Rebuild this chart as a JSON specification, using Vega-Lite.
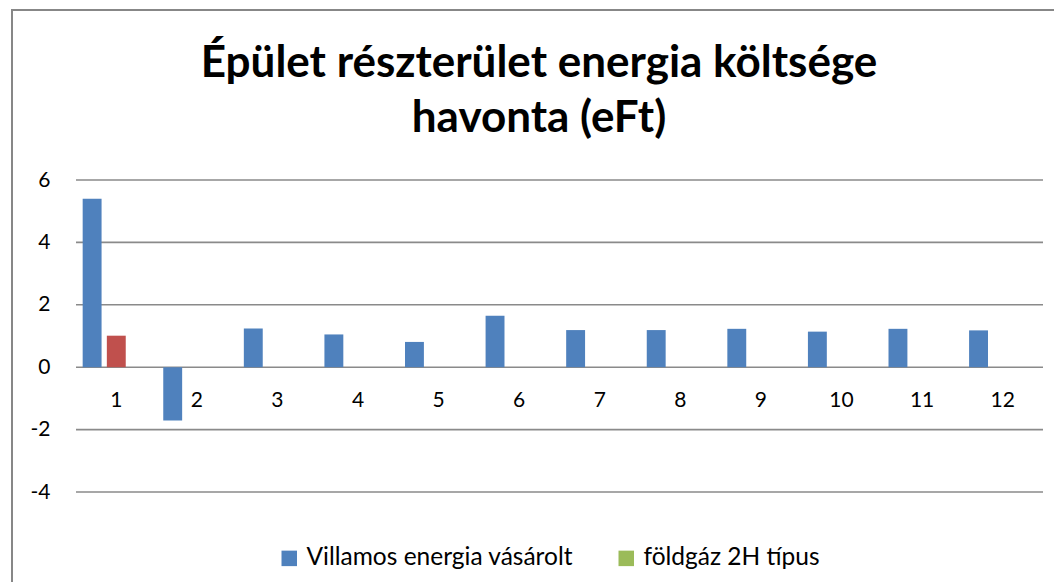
{
  "$schema": "https://vega.github.io/schema/vega-lite/v6.json",
  "width": 1050,
  "height": 580,
  "autosize": "none",
  "padding": {"left": 12, "top": 10, "right": 0, "bottom": 0},
  "background": "white",
  "config": {
    "view": {"stroke": "#878787", "strokeWidth": 2},
    "font": "Lato"
  },
  "title": {
    "text": ["Épület részterület energia költsége", "havonta (eFt)"],
    "anchor": "middle",
    "frame": "group",
    "font": "Lato",
    "fontSize": 44,
    "fontWeight": "bold",
    "color": "black",
    "lineHeight": 55,
    "baseline": "top",
    "offset": -131,
    "dx": 2
  },
  "layer": [
    {
      "data": {"values": [{"g": -4}, {"g": -2}, {"g": 0}, {"g": 2}, {"g": 4}, {"g": 6}]},
      "mark": {"type": "rule", "color": "#8A8A8A", "strokeWidth": 1.6},
      "encoding": {
        "y": {"field": "g", "type": "quantitative", "axis": {"title": null, "grid": false, "domain": false, "ticks": false, "tickSize": 0, "values": [-4, -2, 0, 2, 4, 6], "labelExpr": "replace(datum.label, '\u2212', '-')", "labelFontSize": 21, "labelColor": "black", "labelPadding": 26, "offset": -64}},
        "x": {"datum": 0, "type": "quantitative", "scale": {"domain": [0, 1], "range": [64, 1031]}, "axis": null},
        "x2": {"datum": 1}
      }
    },
    {
      "data": {"values": [
        {"month": 1, "series": "Villamos energia vásárolt", "value": 5.40},
        {"month": 2, "series": "Villamos energia vásárolt", "value": -1.71},
        {"month": 3, "series": "Villamos energia vásárolt", "value": 1.24},
        {"month": 4, "series": "Villamos energia vásárolt", "value": 1.05},
        {"month": 5, "series": "Villamos energia vásárolt", "value": 0.81},
        {"month": 6, "series": "Villamos energia vásárolt", "value": 1.65},
        {"month": 7, "series": "Villamos energia vásárolt", "value": 1.19},
        {"month": 8, "series": "Villamos energia vásárolt", "value": 1.19},
        {"month": 9, "series": "Villamos energia vásárolt", "value": 1.23},
        {"month": 10, "series": "Villamos energia vásárolt", "value": 1.14},
        {"month": 11, "series": "Villamos energia vásárolt", "value": 1.23},
        {"month": 12, "series": "Villamos energia vásárolt", "value": 1.18},
        {"month": 1, "series": "Egyéb", "value": 1.01},
        {"month": 1, "series": "földgáz 2H típus", "value": 0}
      ]},
      "mark": {"type": "bar"},
      "encoding": {
        "x": {
          "field": "month", "type": "ordinal",
          "scale": {"range": [64, 1031], "paddingInner": 0, "paddingOuter": 0, "domain": [1,2,3,4,5,6,7,8,9,10,11,12]},
          "axis": {"title": null, "domain": false, "ticks": false, "tickSize": 0, "grid": false, "labelAngle": 0, "labelFontSize": 21, "labelColor": "black", "labelBaseline": "middle", "labelPadding": 33, "offset": -222.5}
        },
        "xOffset": {
          "field": "series", "type": "nominal",
          "scale": {"domain": ["Villamos energia vásárolt", "Egyéb", "földgáz 2H típus"], "paddingInner": 0.218, "paddingOuter": 0.276}
        },
        "y": {
          "field": "value", "type": "quantitative",
          "scale": {"domain": [-4, 6], "range": [482, 170], "nice": false},
          "axis": {"title": null, "grid": false, "domain": false, "ticks": false, "tickSize": 0, "values": [-4, -2, 0, 2, 4, 6], "labelExpr": "replace(datum.label, '\u2212', '-')", "labelFontSize": 21, "labelColor": "black", "labelPadding": 26, "offset": -64}
        },
        "color": {
          "field": "series", "type": "nominal",
          "scale": {"domain": ["Villamos energia vásárolt", "Egyéb", "földgáz 2H típus"], "range": ["#4F81BD", "#C0504D", "#9BBB59"]},
          "legend": {
            "values": ["Villamos energia vásárolt", "földgáz 2H típus"],
            "title": null, "orient": "none", "direction": "horizontal",
            "legendX": 265, "legendY": 536, "padding": 0,
            "symbolType": "square", "symbolSize": 240, "symbolStrokeWidth": 0,
            "labelFontSize": 24.5, "labelColor": "black", "labelOffset": 5, "labelLimit": 500, "columnPadding": 40
          }
        }
      }
    }
  ],
  "resolve": {"scale": {"x": "independent"}}
}
